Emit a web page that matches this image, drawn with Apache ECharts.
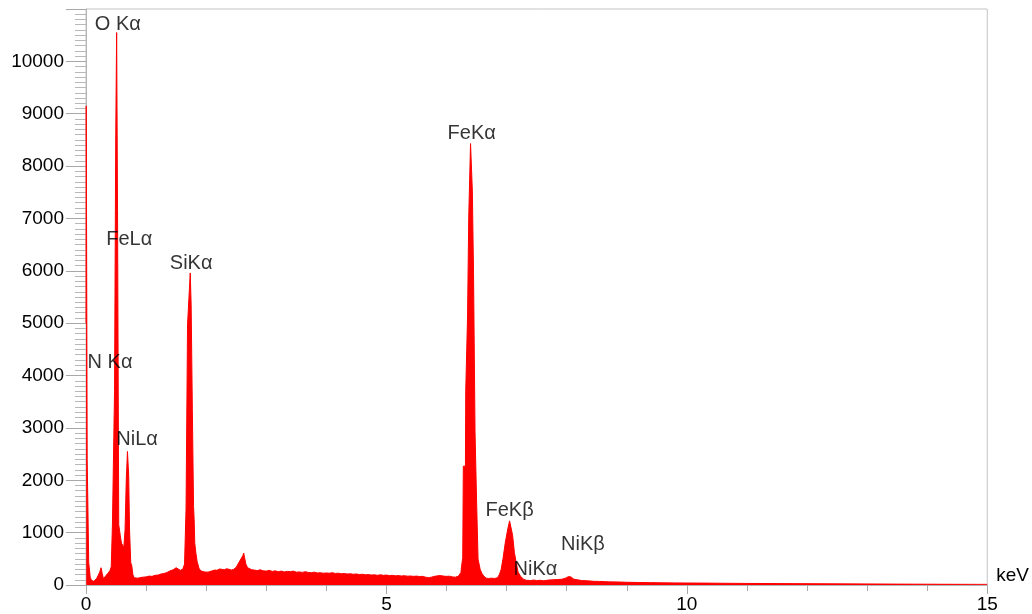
<!DOCTYPE html>
<html>
<head>
<meta charset="utf-8">
<script src="https://cdn.jsdelivr.net/npm/echarts@6/dist/echarts.min.js"></script>
<style>
  html, body { margin: 0; padding: 0; background: #fff; }
  #chart { width: 1032px; height: 614px; }
</style>
</head>
<body>
<div id="chart"></div>
<script>
// Spectrum: energy (keV) and counts
const energyKeV = [
  0.000, 0.004, 0.016, 0.020, 0.040, 0.045, 0.065, 0.070, 0.090, 0.110,
  0.130, 0.150, 0.180, 0.210, 0.230, 0.250, 0.270, 0.290, 0.310, 0.340,
  0.370, 0.400, 0.420, 0.440, 0.470, 0.475, 0.490, 0.495, 0.505, 0.510,
  0.520, 0.525, 0.540, 0.545, 0.570, 0.590, 0.610, 0.630, 0.650, 0.665,
  0.670, 0.685, 0.690, 0.705, 0.710, 0.720, 0.725, 0.740, 0.745, 0.760,
  0.780, 0.800, 0.830, 0.860, 0.900, 0.950, 1.000, 1.050, 1.100, 1.150,
  1.200, 1.250, 1.300, 1.350, 1.400, 1.450, 1.500, 1.530, 1.570, 1.610,
  1.640, 1.665, 1.685, 1.690, 1.715, 1.735, 1.745, 1.750, 1.765, 1.770,
  1.785, 1.790, 1.800, 1.810, 1.830, 1.850, 1.880, 1.910, 1.940, 1.970,
  2.000, 2.030, 2.060, 2.100, 2.140, 2.180, 2.220, 2.260, 2.300, 2.340,
  2.380, 2.420, 2.460, 2.500, 2.540, 2.580, 2.610, 2.625, 2.640, 2.660,
  2.690, 2.720, 2.760, 2.800, 2.850, 2.900, 2.950, 3.000, 3.050, 3.100,
  3.150, 3.200, 3.250, 3.300, 3.350, 3.400, 3.450, 3.500, 3.550, 3.600,
  3.650, 3.700, 3.750, 3.800, 3.850, 3.900, 3.950, 4.000, 4.050, 4.100,
  4.150, 4.200, 4.250, 4.300, 4.350, 4.400, 4.450, 4.500, 4.550, 4.600,
  4.650, 4.700, 4.750, 4.800, 4.850, 4.900, 4.950, 5.000, 5.050, 5.100,
  5.150, 5.200, 5.250, 5.300, 5.350, 5.400, 5.450, 5.500, 5.550, 5.600,
  5.650, 5.700, 5.750, 5.800, 5.850, 5.900, 5.950, 6.000, 6.050, 6.100,
  6.150, 6.200, 6.240, 6.250, 6.270, 6.280, 6.315, 6.320, 6.345, 6.350,
  6.365, 6.370, 6.395, 6.400, 6.425, 6.430, 6.445, 6.450, 6.470, 6.475,
  6.495, 6.500, 6.520, 6.525, 6.550, 6.560, 6.590, 6.620, 6.660, 6.700,
  6.750, 6.800, 6.850, 6.880, 6.910, 6.940, 6.980, 7.020, 7.050, 7.080,
  7.100, 7.130, 7.160, 7.190, 7.230, 7.280, 7.330, 7.400, 7.450, 7.500,
  7.560, 7.620, 7.700, 7.780, 7.850, 7.920, 7.980, 8.030, 8.070, 8.120,
  8.180, 8.250, 8.350, 8.450, 8.550, 8.700, 8.850, 9.000, 9.200, 9.400,
  9.600, 9.800, 10.000, 10.300, 10.600, 11.000, 11.500, 12.000, 12.500, 13.000,
  13.500, 14.000, 14.500, 15.000
];
const counts = [
  5000, 9150, 9150, 2400, 2400, 430, 430, 150, 90, 60,
  70, 100, 130, 160, 250, 330, 220, 120, 140, 190,
  230, 280, 350, 1150, 1150, 3700, 3700, 8600, 8600, 10550,
  10550, 7150, 7150, 1150, 950, 800, 780, 720, 1050, 1050,
  2000, 2000, 2550, 2550, 2100, 2100, 1050, 1050, 420, 380,
  200, 140, 120, 130, 140, 150, 155, 170, 165, 185,
  190, 210, 220, 240, 270, 290, 330, 310, 280, 300,
  400, 1450, 1450, 4970, 4970, 5960, 5960, 5350, 5350, 3350,
  3350, 1500, 1250, 800, 600, 450, 320, 270, 260, 250,
  255, 245, 260, 270, 285, 280, 305, 300, 290, 310,
  300, 285, 300, 340, 420, 500, 560, 610, 520, 400,
  330, 300, 290, 285, 275, 290, 270, 265, 280, 260,
  270, 255, 265, 250, 260, 255, 265, 245, 250, 240,
  255, 240, 235, 245, 230, 235, 225, 230, 225, 235,
  220, 225, 215, 220, 210, 215, 205, 210, 200, 205,
  195, 200, 190, 195, 185, 195, 185, 190, 180, 185,
  175, 180, 172, 178, 168, 172, 165, 170, 162, 165,
  150, 140, 150, 165, 175, 180, 170, 165, 168, 155,
  150, 170, 240, 350, 520, 2270, 2270, 3700, 3700, 5120,
  5120, 7030, 7030, 8430, 8430, 7540, 7540, 5950, 5950, 2910,
  2910, 1640, 1640, 495, 495, 300, 220, 170, 130, 125,
  130, 125, 140, 200, 300, 500, 820, 1070, 1225, 1225,
  950, 620, 430, 250, 170, 110, 90, 85, 95, 85,
  90, 80, 95, 100, 105, 110, 130, 160, 155, 110,
  100, 85, 80, 70, 68, 60, 58, 52, 48, 45,
  42, 40, 38, 36, 33, 30, 27, 25, 22, 20,
  17, 15, 13, 12
];

// Peak annotations (label centre in data coordinates)
const peakNames = ['O Kα', 'FeLα', 'SiKα', 'N Kα', 'NiLα', 'FeKα', 'FeKβ', 'NiKβ', 'NiKα'];
const peakLabelKeV = [0.53, 0.72, 1.75, 0.40, 0.85, 6.42, 7.05, 8.27, 7.48];
const peakLabelCounts = [10705, 6590, 6133, 4248, 2781, 8629, 1429, 781, 305];

const xTickStep = 5;
const yTickStep = 1000;

const spectrum = energyKeV.map((e, i) => [e, counts[i]]);
const annotations = peakNames.map((n, i) => ({ name: n, value: [peakLabelKeV[i], peakLabelCounts[i]] }));

const chart = echarts.init(document.getElementById('chart'), null, { renderer: 'canvas' });
const textFont = 'Liberation Sans, Arial, sans-serif';
chart.setOption({
  animation: false,
  backgroundColor: '#ffffff',
  grid: {
    left: 86, right: 44, top: 9, bottom: 28,
    show: true, borderColor: '#c4c4c4', borderWidth: 1, backgroundColor: 'transparent'
  },
  xAxis: {
    type: 'value', min: 0, max: 15, interval: xTickStep,
    name: 'keV', nameLocation: 'end', nameGap: 9,
    nameTextStyle: { color: '#000', fontSize: 19, fontFamily: textFont, verticalAlign: 'bottom' },
    axisLine: { show: true, lineStyle: { color: '#b4b4b4', width: 1 } },
    axisTick: { show: true, inside: false, length: 9, lineStyle: { color: '#a8a8a8' } },
    minorTick: { show: true, splitNumber: 5, length: 6, lineStyle: { color: '#a8a8a8' } },
    axisLabel: { color: '#000', fontSize: 19, fontFamily: textFont, margin: 10, formatter: v => String(v) },
    splitLine: { show: false }
  },
  yAxis: {
    type: 'value', min: 0, max: 11000, interval: yTickStep,
    axisLine: { show: true, lineStyle: { color: '#b4b4b4', width: 1 } },
    axisTick: { show: true, inside: false, length: 20, lineStyle: { color: '#a8a8a8' } },
    minorTick: { show: true, splitNumber: 10, length: 11, lineStyle: { color: '#b8b8b8' } },
    axisLabel: { color: '#000', fontSize: 19, fontFamily: textFont, margin: 22, showMaxLabel: false, formatter: v => String(v) },
    splitLine: { show: false }
  },
  series: [
    {
      type: 'line',
      data: spectrum,
      showSymbol: false,
      symbol: 'none',
      sampling: null,
      lineStyle: { color: '#ff0000', width: 1 },
      areaStyle: { color: '#ff0000', opacity: 1 },
      z: 2
    },
    {
      type: 'scatter',
      data: annotations,
      symbolSize: 1,
      itemStyle: { color: 'rgba(0,0,0,0)' },
      label: {
        show: true, position: 'inside', formatter: p => p.name,
        color: '#000000', fontSize: 20, fontFamily: textFont
      },
      silent: true,
      z: 5
    }
  ]
});
</script>
</body>
</html>
